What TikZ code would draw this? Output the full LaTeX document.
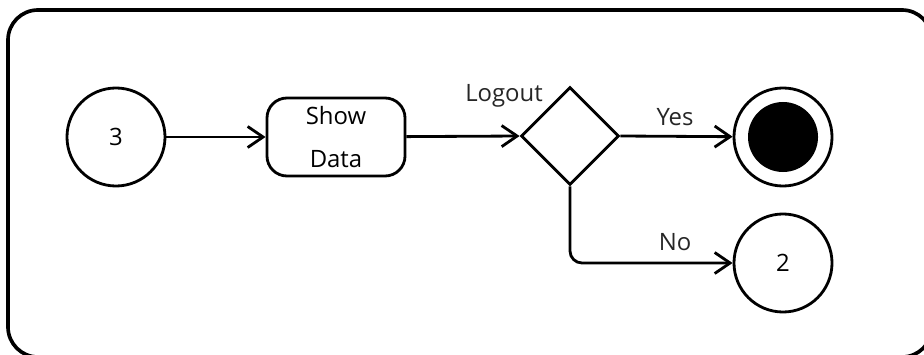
\documentclass[tikz,border=0pt]{standalone}
\usepackage{fontspec}
\setmainfont{Open Sans}
\usetikzlibrary{arrows.meta, shapes.geometric}

\begin{document}
\begin{tikzpicture}[x=0.025cm, y=-0.025cm]
				\tikzset{state/.style={draw, circle, line width=2pt, minimum size=2.45cm, inner sep=0pt},
					activity/.style={draw, rounded corners=0.5cm, line width=2pt, minimum width=3.45cm, minimum height=1.95cm, align=center},
					decision/.style={draw, diamond, line width=2pt, minimum width=2.45cm, minimum height=2.45cm, inner sep=0pt},
					flow/.style={line width=2pt, -{Straight Barb[length=11pt, width=15pt, line width=2pt]}},
					lbl/.style={anchor=base, inner sep=0pt, text=black!85}}
				\useasboundingbox (0,0) rectangle (924,354);
				\fontsize{17}{31}\selectfont
				
				\draw [line width=2.6pt, rounded corners=0.75cm] (8,10) rectangle (932,357); % outer frame
				
				\node [state] (three) at (116,137) {3};
				\node [activity] (show) at (336,137) {Show\\Data};
				\node [decision] (logout) at (570,136) {};
				\node [state] (final) at (783,137) {};
				\node [circle, fill=black, minimum size=1.75cm, inner sep=0pt] (finaldot) at (783,137) {};
				\node [state] (two) at (783,263) {2};
				
				\node [lbl] (logouttxt) at (504,102) {Logout};
				\node [lbl] (yes) at (675,126) {Yes};
				\node [lbl] (no) at (675,250) {No};
				
				\draw [flow] (three) -- (show);
				\draw [flow] (show) -- (logout.west);
				\draw [flow] (logout.east) -- (final);
				\draw [flow, rounded corners=0.3cm] (logout.south) |- (two.west);
				
			\end{tikzpicture}
\end{document}
